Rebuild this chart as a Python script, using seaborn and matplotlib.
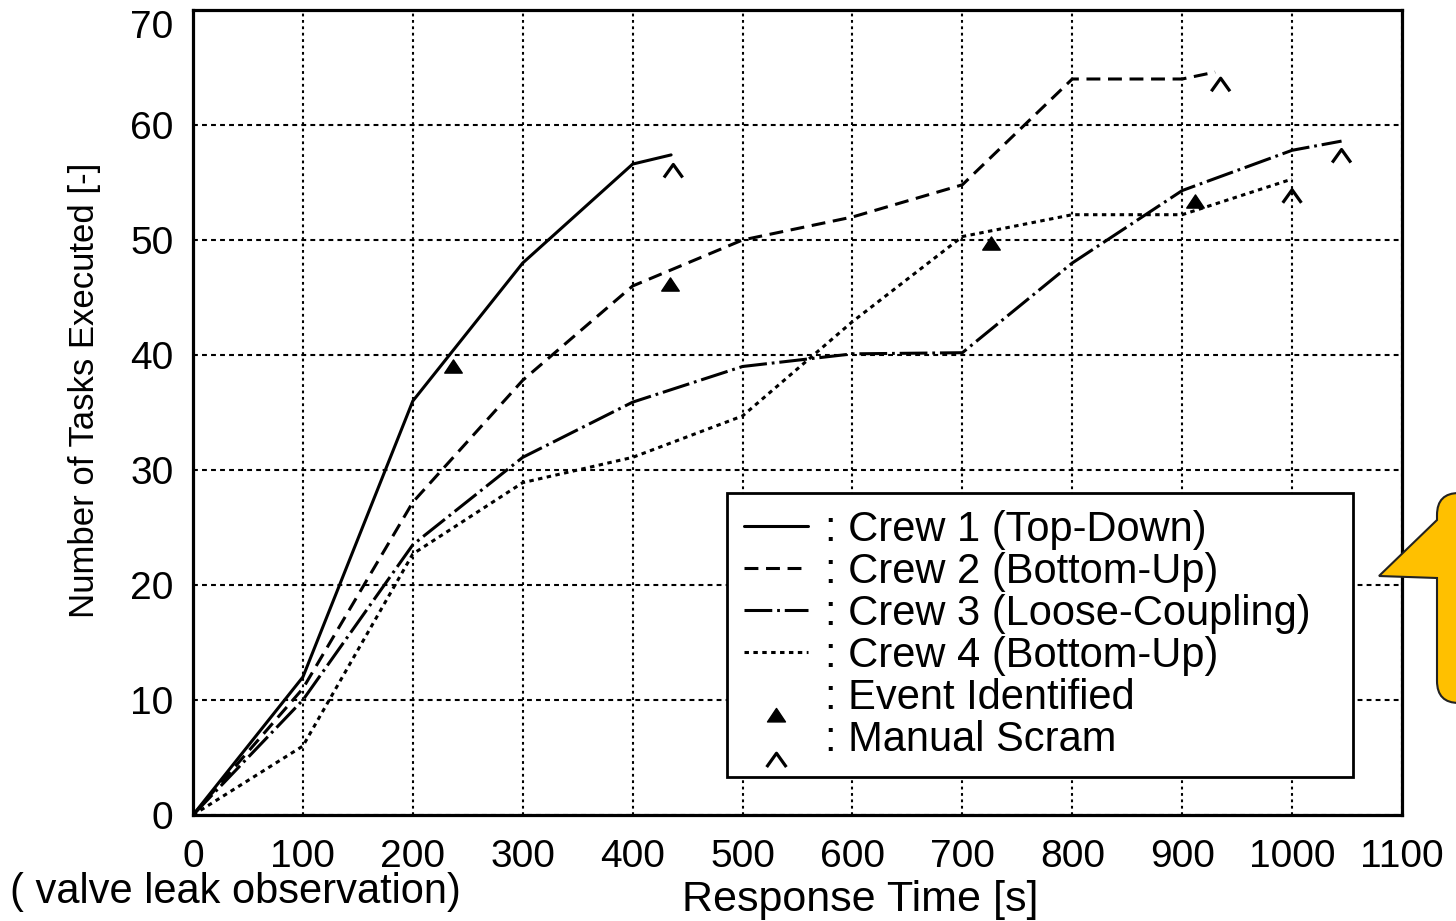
import numpy as np
import pandas as pd
import matplotlib
matplotlib.use("Agg")
import matplotlib.pyplot as plt
import matplotlib.transforms as mtransforms
import seaborn as sns
from matplotlib.path import Path
from matplotlib.patches import PathPatch
from matplotlib.lines import Line2D

# ---------------- data ----------------
crew1_time = [0, 100, 200, 300, 400, 435]
crew1_tasks = [0, 12, 36, 48, 56.6, 57.4]

crew2_time = [0, 100, 200, 300, 400, 500, 600, 700, 800, 900, 930]
crew2_tasks = [0, 11, 27.2, 37.8, 46, 50, 52, 54.8, 64, 64, 64.6]

crew3_time = [0, 100, 200, 300, 400, 500, 600, 700, 800, 900, 1000, 1045]
crew3_tasks = [0, 10, 23.5, 31.1, 35.9, 39, 40.1, 40.2, 48, 54.3, 57.8, 58.6]

crew4_time = [0, 100, 200, 300, 400, 500, 600, 700, 800, 900, 1000]
crew4_tasks = [0, 6, 22.7, 28.9, 31.1, 34.7, 42.9, 50.3, 52.2, 52.2, 55.3]

event_time = [237, 434, 726, 912]
event_tasks = [39.0, 46.2, 49.7, 53.4]

scram_time = [437, 935, 1000, 1045]
scram_tasks = [56.0, 63.5, 53.8, 57.3]

labels = [": Crew 1 (Top-Down)", ": Crew 2 (Bottom-Up)", ": Crew 3 (Loose-Coupling)",
          ": Crew 4 (Bottom-Up)", ": Event Identified", ": Manual Scram"]
x_ticks = list(range(0, 1101, 100))
y_ticks = list(range(0, 71, 10))

# ---------------- style ----------------
sns.set_style("white")
plt.rcParams["font.family"] = ["Liberation Sans", "DejaVu Sans"]
plt.rcParams["lines.scale_dashes"] = False
for k in ["text.color", "axes.labelcolor", "xtick.color", "ytick.color"]:
    plt.rcParams[k] = "black"

W, H = 1456, 921
fig = plt.figure(figsize=(W / 100, H / 100), dpi=100)
ax = fig.add_axes([193 / W, 1 - 815 / H, (1402 - 193) / W, (815 - 10) / H])

styles = ["-", (0, (10, 5.5)), (0, (20, 3.5, 2, 3.5)), (0, (3.2, 3.2))]
series = [(crew1_time, crew1_tasks), (crew2_time, crew2_tasks),
          (crew3_time, crew3_tasks), (crew4_time, crew4_tasks)]
lw = 2.2
for (t, v), ls in zip(series, styles):
    sns.lineplot(x=t, y=v, ax=ax, color="black", linestyle=ls, linewidth=lw,
                 sort=False, estimator=None, legend=False)

tri = Path([(-1, -0.75), (0, 0.75), (1, -0.75), (-1, -0.75)],
           [Path.MOVETO, Path.LINETO, Path.LINETO, Path.CLOSEPOLY])
caret = Path([(-1, -0.7), (0, 0.7), (1, -0.7)],
             [Path.MOVETO, Path.LINETO, Path.LINETO])

sns.scatterplot(x=event_time, y=event_tasks, ax=ax, marker=tri, s=160,
                color="black", edgecolor="black", linewidth=1, legend=False, zorder=5)
ax.scatter(scram_time, scram_tasks, marker=caret, s=180, facecolors="none",
           edgecolors="black", linewidths=2.3, zorder=5)

ax.set_xlim(0, 1100)
ax.set_ylim(0, 70)
ax.set_xticks(x_ticks)
ax.set_yticks(y_ticks)
ax.set_xticklabels([str(v) for v in x_ticks])
ax.set_yticklabels([str(v) for v in y_ticks])
ax.tick_params(axis="both", length=0, labelsize=28, colors="black")
ax.tick_params(axis="x", pad=17)
ax.tick_params(axis="y", pad=14)
# top "70" label sits a little lower in the reference
top_lbl = ax.get_yticklabels()[-1]
top_lbl.set_transform(top_lbl.get_transform() +
                      mtransforms.ScaledTranslation(0, -14 / 100, fig.dpi_scale_trans))

ax.grid(axis="x", color="black", linestyle=(0, (2, 2.6)), linewidth=1.5)
ax.grid(axis="y", color="black", linestyle=(0, (3.5, 3)), linewidth=1.5)
ax.set_axisbelow(True)
for s in ax.spines.values():
    s.set_color("black")
    s.set_linewidth(2.3)
    s.set_visible(True)

ax.set_xlabel("Response Time [s]", fontsize=31)
ax.xaxis.set_label_coords(0.552, -0.081)
ax.set_ylabel("Number of Tasks Executed [-]", fontsize=25)
ax.yaxis.set_label_coords(-0.076, 0.528)
ax.text(-0.151, -0.071, "( valve leak observation)", transform=ax.transAxes,
        ha="left", va="top", fontsize=30)

# legend handles (event/scram markers drawn slightly below their text line)
tri_leg = Path([(-1, -3.05), (0, -1.55), (1, -3.05), (-1, -3.05)],
               [Path.MOVETO, Path.LINETO, Path.LINETO, Path.CLOSEPOLY])
caret_leg = Path([(-1, -3.1), (0, -1.7), (1, -3.1)],
                 [Path.MOVETO, Path.LINETO, Path.LINETO])
handles = [Line2D([], [], color="black", linestyle=ls, linewidth=lw) for ls in styles]
handles.append(Line2D([], [], linestyle="none", marker=tri_leg, markersize=39.5,
                      color="black"))
handles.append(Line2D([], [], linestyle="none", marker=caret_leg, markersize=44,
                      markerfacecolor="none", markeredgecolor="black",
                      markeredgewidth=2.3))
leg = ax.legend(handles, labels, loc="upper left",
                bbox_to_anchor=(0.4417, 0.046, 0.518, 0.354), mode="expand",
                fontsize=30, frameon=True, fancybox=False, framealpha=1,
                edgecolor="black", borderaxespad=0, handlelength=1.55,
                handletextpad=0.4, labelspacing=0.05, borderpad=0.4)
leg.get_frame().set_linewidth(2)

# yellow callout overlay
def fp(x, y):
    return (x / W, 1 - y / H)

verts = [fp(1437, 520), fp(1437, 493 + 22), fp(1437, 493), fp(1459, 493),
         fp(1500, 493), fp(1500, 703), fp(1459, 703), fp(1437, 703),
         fp(1437, 681), fp(1437, 578), fp(1379, 576), fp(1437, 520)]
codes = [Path.MOVETO, Path.LINETO, Path.CURVE3, Path.CURVE3,
         Path.LINETO, Path.LINETO, Path.LINETO, Path.CURVE3, Path.CURVE3,
         Path.LINETO, Path.LINETO, Path.CLOSEPOLY]
callout = PathPatch(Path(verts, codes), facecolor="#FFC000", edgecolor="#222222",
                    linewidth=1.5, transform=fig.transFigure, clip_on=False, zorder=10)
fig.patches.append(callout)

fig.savefig("out.png", dpi=100)
